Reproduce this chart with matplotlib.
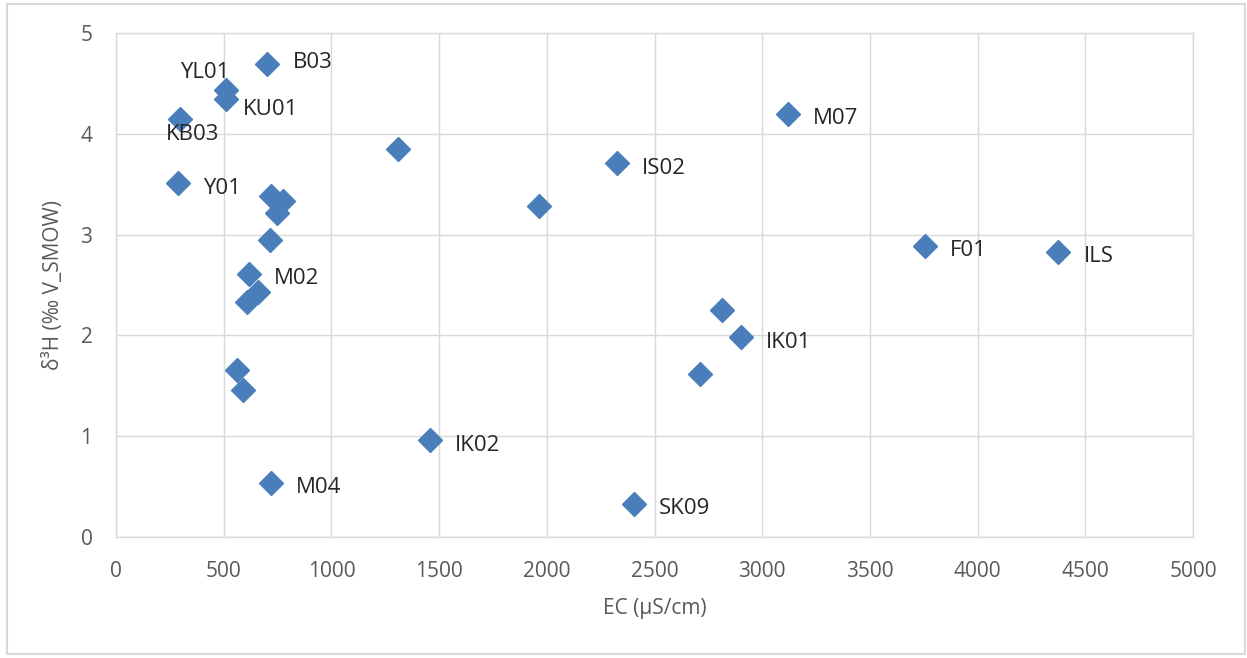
import matplotlib.pyplot as plt
from matplotlib.patches import Rectangle

# sample data
names = ['B03', 'YL01', 'KU01', 'KB03', 'Y01', '', 'M07', 'IS02', '', '', '', '', '',
         'F01', 'ILS', 'M02', '', '', '', 'IK01', '', '', '', 'IK02', 'M04', 'SK09']
ec = [702, 510, 510, 297, 286, 1308, 3118, 2325, 1963, 720, 775, 746, 713,
      3757, 4375, 618, 660, 606, 2812, 2902, 2709, 560, 589, 1456, 719, 2403]
d3h = [4.69, 4.43, 4.35, 4.15, 3.51, 3.85, 4.20, 3.71, 3.28, 3.38, 3.33, 3.21, 2.95,
       2.89, 2.83, 2.61, 2.43, 2.33, 2.25, 1.98, 1.62, 1.66, 1.46, 0.96, 0.54, 0.33]

x_ticks = list(range(0, 5001, 500))
y_ticks = [0, 1, 2, 3, 4, 5]

# label offsets in pixels (dx, dy down), default is right of point
label_off = {'B03': (26, -4), 'YL01': (-46, -20), 'KU01': (17, 8), 'KB03': (-14, 13)}

plt.rcParams['font.family'] = ['Open Sans', 'DejaVu Sans']
blue = '#4A7EBB'
grid = '#D9D9D9'

fig = plt.figure(figsize=(12.47, 6.58), dpi=100)
ax = fig.add_axes([116/1247, 1-537/658, (1193-116)/1247, (537-33)/658])

ax.plot(ec, d3h, linestyle='none', marker='D', markersize=12,
        color=blue, markeredgecolor=blue, zorder=3)

for n, x, y in zip(names, ec, d3h):
    if not n:
        continue
    dx, dy = label_off.get(n, (25, 2.5))
    ax.annotate(n, (x, y), xytext=(dx, -dy), textcoords='offset pixels',
                ha='left', va='center_baseline', fontsize=16, color='#262626', zorder=4)

ax.set_xlim(0, 5000)
ax.set_ylim(0, 5)
ax.set_xticks(x_ticks)
ax.set_yticks(y_ticks)
ax.grid(True, color=grid, linewidth=1)
ax.set_axisbelow(True)
for s in ax.spines.values():
    s.set_color(grid)
    s.set_linewidth(1)
ax.tick_params(length=0, labelsize=15, labelcolor='#595959', pad=17)

ax.set_xlabel('EC (µS/cm)', fontsize=15, color='#595959', labelpad=12)
ax.set_ylabel('δ³H (‰ V_SMOW)', fontsize=15, color='#595959', labelpad=12)

fig.patches.append(Rectangle((7/1247, 1-654/658), (1245-7)/1247, (654-4)/658,
                             transform=fig.transFigure, fill=False,
                             edgecolor=grid, linewidth=1.5))

fig.savefig('out.png', dpi=100)
